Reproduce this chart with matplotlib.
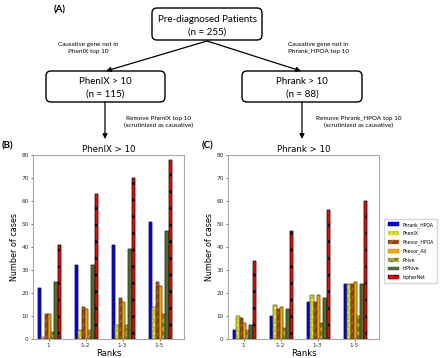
import matplotlib.pyplot as plt
import numpy as np
from matplotlib.patches import FancyBboxPatch

# data
ranks = ['1', '1-2', '1-3', '1-5']
methods = ['Phrank_HPOA', 'PhenIX', 'Phevor_HPOA', 'Phevor_All', 'Phive', 'hiPhive', 'InpherNet']
phenix_gt10 = {
    'Phrank_HPOA': [22, 32, 41, 51],
    'PhenIX': [1, 4, 6, 14],
    'Phevor_HPOA': [11, 14, 18, 25],
    'Phevor_All': [11, 13, 16, 23],
    'Phive': [3, 4, 6, 11],
    'hiPhive': [25, 32, 39, 47],
    'InpherNet': [41, 63, 70, 78],
}
phrank_gt10 = {
    'Phrank_HPOA': [4, 10, 16, 24],
    'PhenIX': [10, 15, 19, 24],
    'Phevor_HPOA': [9, 13, 16, 24],
    'Phevor_All': [7, 14, 19, 25],
    'Phive': [4, 5, 7, 10],
    'hiPhive': [6, 13, 18, 24],
    'InpherNet': [34, 47, 56, 60],
}
colors = ['#0000ee', '#cccc00', '#8b4513', '#ffa500', '#808000', '#556b2f', '#ff0000']
hatches = ['', '....', '////', '', 'xxxx', '', '..']
hatch_cols = ['#0000aa', '#eeee66', '#d2691e', '#cc8400', '#bdb76b', '#3e4f22', 'black']

fig = plt.figure(figsize=(4.4, 3.58), dpi=100)
plt.rcParams['hatch.linewidth'] = 1.0

# flowchart panel, pixel coordinates
top = fig.add_axes([0, 0, 1, 1])
top.set_xlim(0, 440)
top.set_ylim(358, 0)
top.axis('off')
ff = 'Lato'


def box(x0, y0, x1, y1, line1, line2):
    top.add_patch(FancyBboxPatch((x0, y0), x1 - x0, y1 - y0, boxstyle='round,pad=0,rounding_size=5',
                                 fc='white', ec='black', lw=1.0))
    top.text((x0 + x1) / 2, y0 + (y1 - y0) * 0.35, line1, ha='center', va='center', fontsize=7, family=ff)
    top.text((x0 + x1) / 2, y0 + (y1 - y0) * 0.74, line2, ha='center', va='center', fontsize=7, family=ff)


box(152, 8, 262, 40, 'Pre-diagnosed Patients', '(n = 255)')
box(46, 71, 165, 102, 'PhenIX > 10', '(n = 115)')
box(242, 71, 362, 102, 'Phrank > 10', '(n = 88)')
arr = dict(arrowstyle='-|>', color='black', lw=0.9, mutation_scale=7, shrinkA=0, shrinkB=0)
top.annotate('', xy=(106, 71), xytext=(207, 41), arrowprops=arr)
top.annotate('', xy=(301, 71), xytext=(207, 41), arrowprops=arr)
top.annotate('', xy=(105, 139), xytext=(105, 102), arrowprops=arr)
top.annotate('', xy=(302, 139), xytext=(302, 102), arrowprops=arr)
top.text(88, 48, 'Causative gene not in\nPhenIX top 10', ha='center', va='center', fontsize=4.6, family=ff,
         linespacing=1.4)
top.text(318, 48, 'Causative gene not in\nPhrank_HPOA top 10', ha='center', va='center', fontsize=4.6,
         family=ff, linespacing=1.4)
top.text(158, 122, 'Remove PhenIX top 10\n(scrutinized as causative)', ha='center', va='center',
         fontsize=4.6, family=ff, linespacing=1.4)
top.text(359, 122, 'Remove Phrank_HPOA top 10\n(scrutinized as causative)', ha='center', va='center',
         fontsize=4.6, family=ff, linespacing=1.4)
top.text(54, 10, '(A)', ha='left', va='center', fontsize=7, fontweight='bold', family=ff)
top.text(2, 146, '(B)', ha='left', va='center', fontsize=7, fontweight='bold', family=ff)
top.text(202, 146, '(C)', ha='left', va='center', fontsize=7, fontweight='bold', family=ff)

W, H = 440, 358
axB = fig.add_axes([33 / W, 1 - 339 / H, 151 / W, 184 / H])
axC = fig.add_axes([228 / W, 1 - 339 / H, 151 / W, 184 / H])

x = np.arange(len(ranks))
width = 0.087
for ax, data, title in [(axB, phenix_gt10, 'PhenIX > 10'), (axC, phrank_gt10, 'Phrank > 10')]:
    for i, m in enumerate(methods):
        pos = x - 0.28 + i * width
        ax.bar(pos, data[m], width, align='edge', color=colors[i],
               hatch=hatches[i], edgecolor=hatch_cols[i], lw=0.3, label=m)
        # thin dark outline on top of the hatched fill
        ax.bar(pos, data[m], width, align='edge', fill=False, edgecolor='#222222', lw=0.35)
    ax.set_xlim(-0.42, 3.66)
    ax.set_ylim(0, 80)
    ax.set_yticks(range(0, 81, 10))
    ax.set_xticks(x)
    ax.set_xticklabels(ranks)
    ax.tick_params(labelsize=4.2, length=1.5, width=0.5, pad=1.5, colors='#333333')
    for s in ax.spines.values():
        s.set_color('#aaaaaa')
        s.set_linewidth(0.8)
    ax.set_title(title, fontsize=6.2, pad=2)
    ax.set_xlabel('Ranks', fontsize=6, labelpad=0.5)
    ax.set_ylabel('Number of cases', fontsize=5.8, labelpad=2)

axC.legend(loc='center left', bbox_to_anchor=(1.02, 0.48), fontsize=3.3, frameon=True, edgecolor='#cccccc',
           fancybox=False, handlelength=2.6, handleheight=0.9, labelspacing=0.75, borderpad=0.7,
           handletextpad=0.6)

fig.savefig('out.png', dpi=100)
plt.close()
